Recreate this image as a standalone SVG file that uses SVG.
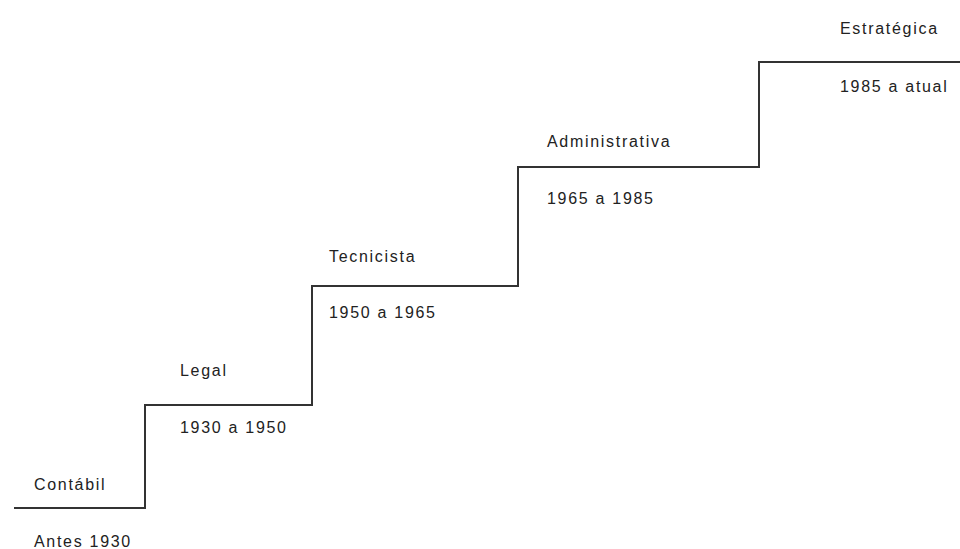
<svg xmlns="http://www.w3.org/2000/svg" width="960" height="549" viewBox="0 0 960 549">
<style>
.t{font-family:"Liberation Sans",Arial,sans-serif;font-size:16px;letter-spacing:1.7px;fill:#222}
.s{fill:none;stroke:#333;stroke-width:2}
</style>
<rect width="960" height="549" fill="#fff"/>
<g id="connectors">
<path class="s" d="M14 508H145V405H312V286H518V167H759V62H960"/>
</g>
<g id="contabil"><text class="t" x="34" y="490">Contábil</text><text class="t" x="34" y="547">Antes 1930</text></g>
<g id="legal"><text class="t" x="180" y="376">Legal</text><text class="t" x="180" y="433">1930 a 1950</text></g>
<g id="tecnicista"><text class="t" x="329" y="262">Tecnicista</text><text class="t" x="329" y="318">1950 a 1965</text></g>
<g id="administrativa"><text class="t" x="547" y="147">Administrativa</text><text class="t" x="547" y="204">1965 a 1985</text></g>
<g id="estrategica"><text class="t" x="840" y="34">Estratégica</text><text class="t" x="840" y="92">1985 a atual</text></g>
</svg>
